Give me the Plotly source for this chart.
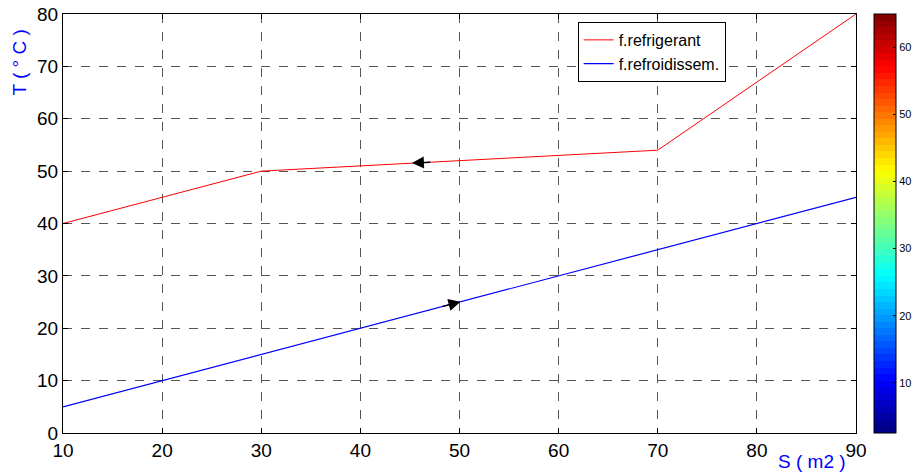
import numpy as np
import plotly.graph_objects as go

# data
s_ref = [10, 30, 70, 90]
t_ref = [40, 50, 54, 80]
s_cool = [10, 90]
t_cool = [5, 45]
x_ticks = [10, 20, 30, 40, 50, 60, 70, 80, 90]
y_ticks = [0, 10, 20, 30, 40, 50, 60, 70, 80]
cbar_ticks = [10, 20, 30, 40, 50, 60]
cbar_range = [2.5, 65]
arrow_s_ref = 46
arrow_s_cool = 49.5

# jet colormap (64 levels, discrete)
def jet(v):
    r = np.clip(1.5 - abs(4 * v - 3), 0, 1)
    g = np.clip(1.5 - abs(4 * v - 2), 0, 1)
    b = np.clip(1.5 - abs(4 * v - 1), 0, 1)
    return "rgb(%d,%d,%d)" % (r * 255, g * 255, b * 255)

n = 64
cs = []
for i in range(n):
    c = jet((i + 0.5) / n)
    cs.append([i / n, c])
    cs.append([(i + 1) / n, c])

font_main = "Liberation Sans Narrow, Arial Narrow, Liberation Sans, Arial"

fig = go.Figure()
fig.add_trace(go.Scatter(x=s_ref, y=t_ref, mode="lines", name="f.refrigerant",
                         line=dict(color="red", width=1)))
fig.add_trace(go.Scatter(x=s_cool, y=t_cool, mode="lines", name="f.refroidissem.",
                         line=dict(color="blue", width=1.2)))
fig.add_trace(go.Scatter(x=[None], y=[None], mode="markers", showlegend=False,
                         marker=dict(color=[cbar_range[0]], colorscale=cs,
                                     cmin=cbar_range[0], cmax=cbar_range[1],
                                     showscale=True,
                                     colorbar=dict(x=1.0227, xanchor="left", y=0.5, yanchor="middle",
                                                   len=1.0, lenmode="fraction", thickness=22,
                                                   outlinecolor="black", outlinewidth=1,
                                                   tickvals=cbar_ticks, ticks="inside", ticklen=3,
                                                   tickcolor="black",
                                                   tickfont=dict(size=11, family=font_main, color="black"),
                                                   xpad=0, ypad=0))))

# direction arrows
ya = float(np.interp(arrow_s_ref, s_ref, t_ref))
yb = float(np.interp(arrow_s_cool, s_cool, t_cool))
fig.add_annotation(x=arrow_s_ref - 0.8, y=ya - 0.07, ax=arrow_s_ref + 1.2, ay=ya + 0.1,
                   xref="x", yref="y", axref="x", ayref="y", text="",
                   showarrow=True, arrowhead=2, arrowsize=1.6, arrowwidth=1.5, arrowcolor="black")
fig.add_annotation(x=arrow_s_cool + 0.6, y=yb + 0.3, ax=arrow_s_cool - 1.4, ay=yb - 0.7,
                   xref="x", yref="y", axref="x", ayref="y", text="",
                   showarrow=True, arrowhead=2, arrowsize=1.6, arrowwidth=1.5, arrowcolor="black")

# axis titles
fig.add_annotation(x=-0.055, y=0.885, xref="paper", yref="paper", text="T ( \u00b0 C )",
                   textangle=-90, showarrow=False, xanchor="center", yanchor="middle",
                   font=dict(size=19, family=font_main, color="blue"))
fig.add_annotation(x=0.944, y=-0.069, xref="paper", yref="paper", text="S ( m2 )",
                   showarrow=False, yanchor="middle", xanchor="center",
                   font=dict(size=19, family=font_main, color="blue"))

axis_common = dict(showgrid=True, gridcolor="#555555", griddash="dash", gridwidth=1,
                   showline=True, linecolor="black", linewidth=1, mirror="allticks",
                   ticks="inside", ticklen=5, tickcolor="black", zeroline=False,
                   tickfont=dict(size=19, family=font_main, color="black"))

fig.update_xaxes(range=[10, 90], tickvals=x_ticks, **axis_common)
fig.update_yaxes(range=[0, 80], tickvals=y_ticks, **axis_common)

fig.update_layout(
    width=914, height=472,
    margin=dict(l=63, r=58, t=14, b=39, autoexpand=False),
    plot_bgcolor="white", paper_bgcolor="white",
    legend=dict(x=0.649, y=0.981, xanchor="left", yanchor="top",
                bordercolor="black", borderwidth=1, bgcolor="white",
                font=dict(size=16, family=font_main, color="black"),
                tracegroupgap=0, itemwidth=30),
)

fig.write_html("out.html")
